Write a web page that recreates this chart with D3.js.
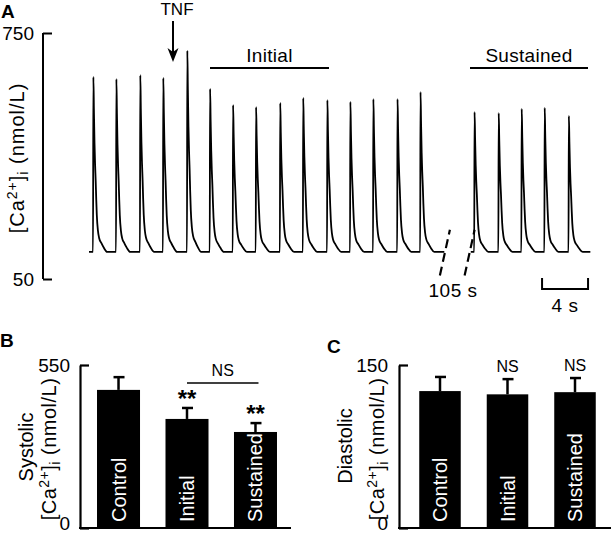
<!DOCTYPE html>
<html>
<head>
<meta charset="utf-8">
<script src="https://cdn.jsdelivr.net/npm/d3@7/dist/d3.min.js"></script>
<style>
  body { margin: 0; background: #fff; }
  svg { display: block; font-family: "Liberation Sans", Arial, sans-serif; }
  text { fill: #000; }
</style>
</head>
<body>
<svg id="chart" width="611" height="535"></svg>
<script>
// ---------- Panel A data (trace) ----------
const baselineCa = 127;                       // nmol/L diastolic level
const beatTimes1 = [0.35, 2.35, 4.43, 6.43, 8.52, 10.5, 12.5, 14.5, 16.6, 18.6, 20.7, 22.7, 24.7, 26.8, 28.8];
const beatPeaks1 = [625, 619, 630, 622, 700, 591, 545, 539, 551, 565, 559, 554, 562, 562, 582];
const beatTimes2 = [33.5, 35.6, 37.6, 39.6, 41.7];
const beatPeaks2 = [525, 522, 534, 537, 514];
const segment1 = [0, 30.9];
const segment2 = [33.2, 43.6];
// decay template (time after peak in s, fraction of amplitude remaining)
const decayTimes = [0, 0.05, 0.1, 0.15, 0.2, 0.25, 0.3, 0.4, 0.5, 0.7, 0.9, 1.2];
const decayFrac  = [1, 0.8, 0.62, 0.5, 0.41, 0.3, 0.21, 0.12, 0.08, 0.05, 0.025, 0];
const riseTime = 0.03;
const axisTicksA = [50, 750];

// ---------- Panel B / C data ----------
const categories = ["Control", "Initial", "Sustained"];
const systolic = [466, 368, 324];
const systolicErr = [43, 37, 30];
const systolicSig = ["", "**", "**"];
const diastolic = [126, 123, 125];
const diastolicErr = [13, 14, 13];
const diastolicSig = ["", "NS", "NS"];
const ticksB = [0, 550];
const ticksC = [0, 150];

const svg = d3.select("#chart");
const FS = 19;

// ================= Panel A =================
const tScale = d3.scaleLinear().domain([0, 43.7]).range([89, 591.5]);
const yA = d3.scaleLinear().domain([50, 750]).range([279, 33]);

function buildSegment(seg, beats, peaks) {
  const pts = [[seg[0], baselineCa]];
  beats.forEach((tb, i) => {
    const next = i + 1 < beats.length ? beats[i + 1] : seg[1];
    pts.push([tb, baselineCa]);
    decayTimes.forEach((dt, k) => {
      const t = tb + riseTime + dt;
      if (t < next && t <= seg[1]) pts.push([t, baselineCa + (peaks[i] - baselineCa) * decayFrac[k]]);
    });
  });
  pts.push([seg[1], baselineCa]);
  return pts;
}
const lineGen = d3.line().x(d => tScale(d[0])).y(d => yA(d[1])).curve(d3.curveMonotoneX);

const gA = svg.append("g");
[buildSegment(segment1, beatTimes1, beatPeaks1), buildSegment(segment2, beatTimes2, beatPeaks2)].forEach(pts => {
  gA.append("path").attr("d", lineGen(pts)).attr("fill", "none")
    .attr("stroke", "#000").attr("stroke-width", 1.8).attr("stroke-linejoin", "round");
});

// y axis A
const axA = d3.axisLeft(yA).tickValues(axisTicksA).tickSizeInner(-9).tickSizeOuter(0).tickPadding(9);
const gAx = svg.append("g").attr("transform", "translate(43,0)").call(axA);
gAx.selectAll("path,line").attr("stroke", "#000").attr("stroke-width", 2);
gAx.selectAll("text").attr("font-size", FS).attr("font-family", "Liberation Sans, Arial, sans-serif").attr("fill", "#000");
gAx.select(".domain").attr("d", `M0,${yA(750)}V${yA(50)}`);

function caLabel(sel, fs, ls) {
  sel.attr("font-size", fs).attr("letter-spacing", ls);
  sel.append("tspan").text("[Ca");
  sel.append("tspan").text("2+").attr("font-size", fs * 0.7).attr("dy", -7);
  sel.append("tspan").text("]").attr("dy", 7);
  sel.append("tspan").text("i").attr("font-size", fs * 0.7).attr("dy", 4);
  sel.append("tspan").text(" (nmol/L)").attr("dy", -4);
}

// y label A
caLabel(svg.append("text").attr("transform", `translate(24,158) rotate(-90)`).attr("text-anchor", "middle"), 20, 1);

// Panel letter
svg.append("text").attr("x", 1).attr("y", 18).attr("font-size", 19).attr("font-weight", "bold").text("A");

// TNF arrow
svg.append("text").attr("x", 177).attr("y", 15).attr("text-anchor", "middle").attr("font-size", 17).text("TNF");
svg.append("line").attr("x1", 173).attr("x2", 173).attr("y1", 21).attr("y2", 52).attr("stroke", "#000").attr("stroke-width", 2);
svg.append("path").attr("d", "M167.5,48 L173,62 L178.5,48 L173,52 Z").attr("fill", "#000");

// Initial / Sustained bars
const periods = [
  {label: "Initial", t0: tScale.invert(210), t1: tScale.invert(329)},
  {label: "Sustained", t0: tScale.invert(470), t1: tScale.invert(588)}
];
periods.forEach(p => {
  svg.append("line").attr("x1", tScale(p.t0)).attr("x2", tScale(p.t1)).attr("y1", 68).attr("y2", 68)
    .attr("stroke", "#000").attr("stroke-width", 2.2);
  svg.append("text").attr("x", (tScale(p.t0) + tScale(p.t1)) / 2).attr("y", 62)
    .attr("text-anchor", "middle").attr("font-size", FS).attr("letter-spacing", 0.3).text(p.label);
});

// Break marks
[30.95, 33.1].forEach(t => {
  const xc = tScale(t);
  svg.append("line").attr("x1", xc - 5).attr("y1", yA(60)).attr("x2", xc + 5).attr("y2", yA(190))
    .attr("stroke", "#000").attr("stroke-width", 2.2).attr("stroke-dasharray", "9,5");
});
svg.append("text").attr("x", 453).attr("y", 297).attr("text-anchor", "middle").attr("font-size", FS).attr("letter-spacing", 0.5).text("105 s");

// Scale bar 4 s
const sb0 = tScale(39.4), sb1 = tScale(43.4);
svg.append("path").attr("d", `M${sb0},278V289H${sb1}V278`).attr("fill", "none").attr("stroke", "#000").attr("stroke-width", 2);
svg.append("text").attr("x", (sb0 + sb1) / 2).attr("y", 312).attr("text-anchor", "middle").attr("font-size", FS).attr("letter-spacing", 0.5).text("4 s");

// ================= Bar panels =================
function barPanel(opts) {
  const g = svg.append("g");
  const x = d3.scaleBand().domain(categories).range(opts.xRange).paddingInner(opts.padIn).paddingOuter(opts.padOut);
  const y = d3.scaleLinear().domain(opts.domain).range([528, 365]);
  const bw = x.bandwidth();
  g.selectAll("rect.bar").data(categories).join("rect")
    .attr("x", d => x(d)).attr("width", bw)
    .attr("y", (d, i) => y(opts.values[i])).attr("height", (d, i) => y(0) - y(opts.values[i]))
    .attr("fill", "#000");
  categories.forEach((c, i) => {
    const cx = x(c) + bw / 2;
    const top = y(opts.values[i] + opts.errs[i]);
    g.append("line").attr("x1", cx).attr("x2", cx).attr("y1", y(opts.values[i])).attr("y2", top)
      .attr("stroke", "#000").attr("stroke-width", 2.5);
    g.append("line").attr("x1", cx - 5).attr("x2", cx + 6).attr("y1", top).attr("y2", top)
      .attr("stroke", "#000").attr("stroke-width", 2.5);
    g.append("text").attr("transform", `translate(${cx + 7},522) rotate(-90)`)
      .attr("font-size", 20).attr("fill", "#fff").style("fill", "#fff").text(c);
    const s = opts.sig[i];
    if (s === "**") {
      g.append("text").attr("x", cx).attr("y", top - opts.sigGap + 12).attr("text-anchor", "middle")
        .attr("font-size", 24).attr("font-weight", "bold").text(s);
    } else if (s) {
      g.append("text").attr("x", cx).attr("y", top - 7).attr("text-anchor", "middle")
        .attr("font-size", 16).text(s);
    }
  });
  const ax = d3.axisLeft(y).tickValues(opts.ticks).tickSizeInner(-9).tickSizeOuter(0).tickPadding(opts.tickPad);
  const ga = g.append("g").attr("transform", `translate(${opts.axisX},0)`).call(ax);
  ga.selectAll("path,line").attr("stroke", "#000").attr("stroke-width", 2.2);
  ga.selectAll("text").attr("font-size", FS).attr("font-family", "Liberation Sans, Arial, sans-serif").attr("fill", "#000")
    .attr("dy", d => d === 0 ? "0.1em" : "0.32em");
  g.append("line").attr("x1", opts.axisX - 1).attr("x2", opts.xEnd).attr("y1", y(0)).attr("y2", y(0))
    .attr("stroke", "#000").attr("stroke-width", 2.2);
  return {x, y, bw, g};
}

const pB = barPanel({
  xRange: [84, 290], padIn: 0.372, padOut: 0.19, domain: [0, 550], values: systolic, errs: systolicErr,
  sig: systolicSig, ticks: ticksB, axisX: 80, xEnd: 291, tickPad: 10, sigGap: 13
});
const pC = barPanel({
  xRange: [405, 610], padIn: 0.385, padOut: 0.211, domain: [0, 150], values: diastolic, errs: diastolicErr,
  sig: diastolicSig, ticks: ticksC, axisX: 399, xEnd: 611, tickPad: 11, sigGap: 13
});

// NS bracket in B
const nsX0 = pB.x("Initial") + pB.bw / 2, nsX1 = pB.x("Sustained") + pB.bw / 2 + 3;
svg.append("line").attr("x1", nsX0).attr("x2", nsX1).attr("y1", 383).attr("y2", 383).attr("stroke", "#000").attr("stroke-width", 1.6);
svg.append("text").attr("x", (nsX0 + nsX1) / 2).attr("y", 376).attr("text-anchor", "middle").attr("font-size", 16).text("NS");

// Panel letters
svg.append("text").attr("x", 0).attr("y", 347).attr("font-size", 19).attr("font-weight", "bold").text("B");
svg.append("text").attr("x", 327).attr("y", 353).attr("font-size", 19).attr("font-weight", "bold").text("C");

// y labels B and C
function yLabel(x1, y1, first, x2, y2) {
  svg.append("text").attr("transform", `translate(${x1},${y1}) rotate(-90)`).attr("text-anchor", "middle")
    .attr("font-size", 20).text(first);
  caLabel(svg.append("text").attr("transform", `translate(${x2},${y2}) rotate(-90)`).attr("text-anchor", "middle"), 20, 0.5);
}
yLabel(33, 447, "Systolic", 56, 449);
yLabel(352, 446, "Diastolic", 384, 449);
</script>
</body>
</html>
